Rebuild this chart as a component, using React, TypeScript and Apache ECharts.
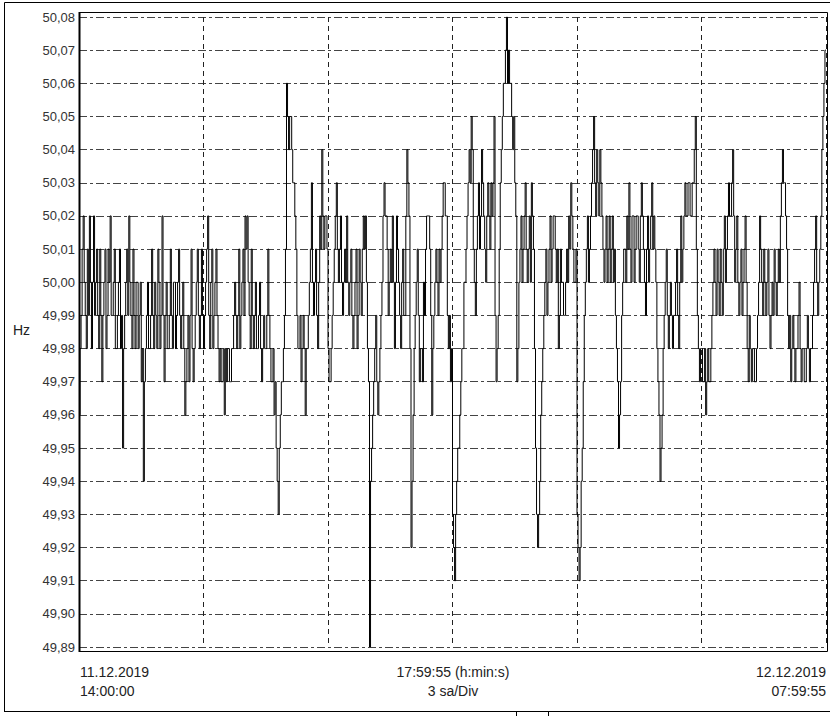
import React, { useEffect, useRef } from "react";
import * as echarts from "echarts";

// Frequency samples (Hz), one every 1.5 minutes from 11.12.2019 14:00:00
const STEP_MIN = 1.5;
const freqHz: number[] = [
  49.96,49.98, 49.99,50.01, 50.02,50.00, 49.99,49.98, 50.01,49.99, 50.02,50.00, 49.98,50.00, 50.02,49.99, 50.00,50.01, 49.99,49.98,
  50.01,49.99, 49.97,49.99, 50.00,50.01, 49.98,49.99, 50.01,50.00, 50.02,49.99, 49.99,50.00, 50.01,49.98, 49.98,49.99, 50.00,50.01,
  49.98,49.99, 49.95,49.98, 49.99,50.00, 50.01,49.99, 50.02,50.00, 49.99,49.98, 50.01,49.99, 49.98,50.00, 50.00,49.98, 49.99,50.00,
  49.97,49.98, 49.94,49.97, 49.98,49.99, 50.00,49.98, 49.98,49.99, 50.01,49.99, 49.98,50.00, 49.99,49.98, 50.01,50.00, 49.98,49.99,
  50.02,49.99, 49.97,49.99, 50.00,49.98, 49.98,49.99, 50.01,49.99, 49.98,50.00, 50.00,49.98, 49.99,50.00, 50.01,49.99, 49.98,49.99,
  50.00,49.98, 49.96,49.97, 49.98,49.99, 49.97,49.99, 50.01,49.98, 49.97,49.98, 49.99,50.00, 50.01,49.99, 49.98,49.99, 50.01,49.99,
  49.98,49.99, 50.00,50.01, 50.02,49.99, 49.98,50.00, 50.01,49.98, 49.99,50.00, 50.01,49.99, 49.98,49.97, 49.98,49.97, 49.97,49.98,
  49.96,49.98, 49.97,49.98, 49.98,49.97, 49.97,49.98, 49.98,49.99, 50.00,49.99, 49.98,49.99, 50.01,49.98, 49.99,50.00, 50.01,49.99,
  50.02,50.01, 50.02,50.00, 49.99,49.98, 50.01,49.99, 49.98,49.99, 50.00,49.98, 49.98,49.99, 50.00,49.98, 49.97,49.98, 49.99,49.98,
  49.98,49.99, 50.01,49.99, 49.98,49.97, 49.97,49.98, 49.96,49.97, 49.95,49.94, 49.93,49.95, 49.96,49.97, 49.97,49.98, 49.99,50.01,
  50.06,50.05, 50.04,50.05, 50.05,50.04, 50.03,50.03, 50.02,50.01, 49.99,49.98, 49.98,49.99, 49.97,49.98, 49.99,49.98, 49.96,49.98,
  49.98,49.99, 50.00,50.01, 50.03,50.00, 49.99,50.00, 50.01,49.99, 49.98,50.00, 50.02,50.01, 50.04,50.02, 50.01,50.02, 50.02,50.01,
  49.98,49.97, 49.97,49.98, 49.99,50.00, 50.01,50.02, 50.03,50.01, 50.00,50.01, 50.02,50.00, 49.99,50.00, 50.01,50.00, 50.02,50.00,
  49.99,50.00, 50.01,49.99, 49.98,49.99, 50.00,50.01, 49.98,49.99, 50.01,50.00, 49.99,50.01, 50.02,50.01, 50.02,50.00, 49.98,49.97,
  49.89,49.94, 49.95,49.96, 49.97,49.98, 49.99,49.97, 49.96,49.97, 49.98,49.99, 50.00,50.02, 50.03,50.02, 50.02,50.01, 49.99,50.00,
  50.01,50.00, 50.02,50.00, 49.98,50.00, 50.02,50.01, 50.00,49.99, 49.98,50.00, 50.01,49.99, 49.99,50.02, 50.04,50.03, 50.02,49.98,
  49.92,49.94, 49.96,49.98, 49.99,50.00, 50.01,49.99, 49.97,49.98, 49.98,49.97, 50.00,49.99, 50.01,50.02, 50.02,50.02, 50.01,49.99,
  49.96,49.98, 49.99,50.00, 50.01,50.00, 49.99,50.01, 50.00,50.01, 50.02,50.03, 50.03,50.02, 50.02,49.99, 49.98,49.99, 49.97,49.98,
  49.93,49.92, 49.91,49.93, 49.94,49.95, 49.95,49.96, 49.97,49.98, 49.98,50.00, 50.00,50.01, 50.02,50.03, 50.04,50.03, 50.05,50.04,
  50.01,50.00, 49.99,50.01, 50.02,50.03, 50.01,50.02, 50.04,50.03, 50.02,50.01, 50.00,50.02, 50.03,50.02, 50.01,50.03, 50.02,50.03,
  50.05,49.99, 49.97,49.98, 49.99,50.01, 50.03,50.04, 50.05,50.06, 50.06,50.07, 50.08,50.06, 50.07,50.06, 50.06,50.05, 50.04,50.05,
  50.03,50.02, 49.97,49.98, 50.00,50.01, 50.02,50.00, 50.01,50.02, 50.03,50.01, 50.00,50.01, 50.02,50.00, 50.03,50.02, 50.01,49.98,
  49.95,49.93, 49.92,49.93, 49.94,49.96, 49.97,49.98, 49.99,50.00, 50.01,49.99, 50.00,50.01, 50.02,50.00, 50.01,50.02, 50.02,50.01,
  50.00,50.01, 49.98,49.99, 50.01,50.00, 50.00,49.99, 49.99,50.00, 50.01,50.00, 50.02,50.01, 50.03,50.02, 50.01,50.00, 50.00,50.01,
  49.93,49.92, 49.91,49.92, 49.94,49.95, 49.97,49.99, 50.00,50.01, 50.02,50.00, 50.01,50.02, 50.03,50.04, 50.05,50.03, 50.02,50.04,
  50.03,50.02, 50.04,50.03, 50.02,50.01, 50.00,50.01, 50.02,50.00, 50.01,50.02, 50.00,50.01, 50.02,50.00, 50.01,49.99, 49.98,49.97,
  49.95,49.96, 49.97,49.99, 50.00,50.01, 50.01,50.00, 50.02,50.01, 50.03,50.01, 50.00,50.02, 50.02,50.00, 50.01,50.02, 50.02,50.01,
  50.00,50.02, 50.03,50.02, 50.01,50.00, 49.99,50.01, 50.02,50.00, 50.01,50.02, 50.03,50.01, 50.02,50.01, 50.00,49.98, 49.97,49.96,
  49.94,49.95, 49.96,49.98, 49.99,50.00, 50.01,49.99, 49.98,49.99, 50.00,49.99, 49.98,49.99, 49.99,50.00, 50.01,49.99, 49.98,50.00,
  50.02,50.00, 50.01,50.02, 50.03,50.02, 50.02,50.03, 50.03,50.02, 50.02,50.03, 50.03,50.04, 50.05,50.01, 49.99,49.98, 49.97,49.98,
  49.98,49.97, 49.97,49.98, 49.96,49.97, 49.98,49.97, 49.97,49.98, 49.99,50.00, 50.01,50.00, 49.99,50.01, 50.00,49.99, 50.01,50.00,
  49.99,50.01, 50.02,50.00, 50.01,50.02, 50.03,50.02, 50.02,50.03, 50.04,50.02, 50.00,50.01, 50.02,50.00, 49.99,50.00, 50.01,49.99,
  50.00,50.01, 50.02,50.00, 49.98,49.97, 49.99,49.98, 49.97,49.98, 49.98,49.97, 49.97,49.98, 49.99,50.00, 50.02,50.01, 50.00,49.99,
  50.01,50.00, 49.99,50.00, 50.01,49.99, 49.98,49.99, 50.00,49.99, 50.01,50.00, 49.99,50.00, 50.01,50.00, 50.02,50.03, 50.04,50.03,
  50.03,50.02, 50.01,49.99, 49.98,49.99, 49.97,49.98, 49.99,49.98, 49.97,49.98, 49.98,49.99, 50.00,49.98, 49.97,49.98, 49.98,49.97,
  49.97,49.98, 49.99,49.98, 49.97,49.98, 49.98,49.99, 50.00,50.01, 50.02,50.00, 49.99,50.00, 50.01,50.02, 50.04,50.05, 50.06,50.07,
  50.07,
];

const Y_MIN = 49.89;
const Y_MAX = 50.08;
const Y_STEP = 0.01;
const X_TOTAL_MIN = 1080; // 18 h
const X_DIV_MIN = 180; // 3 h per division

const yUnit = "Hz";
const startLabel = ["11.12.2019", "14:00:00"];
const midLabel = ["17:59:55 (h:min:s)", "3 sa/Div"];
const endLabel = ["12.12.2019", "07:59:55"];

const FONT = "'Liberation Sans', Arial, sans-serif";

export default function App() {
  const ref = useRef<HTMLDivElement>(null);

  useEffect(() => {
    if (!ref.current) return;
    const chart = echarts.init(ref.current, null, { renderer: "svg" });
    const data = freqHz.map((v, i) => [i * STEP_MIN, v]);
    const L = 79, T = 17, R = 826, B = 647;

    chart.setOption({
      animation: false,
      backgroundColor: "#ffffff",
      grid: { left: L, top: T, width: R - L, height: B - T, containLabel: false },
      xAxis: {
        type: "value",
        min: 0,
        max: X_TOTAL_MIN,
        interval: X_DIV_MIN,
        axisLine: { show: false },
        axisTick: { show: false },
        axisLabel: { show: false },
        splitLine: {
          show: true,
          lineStyle: { color: "#222", width: 1, type: [5, 4] },
        },
      },
      yAxis: {
        type: "value",
        min: Y_MIN,
        max: Y_MAX,
        interval: Y_STEP,
        axisLine: { show: false },
        axisTick: { show: false },
        axisLabel: {
          show: true,
          margin: 4,
          color: "#333",
          fontFamily: FONT,
          fontSize: 13,
          formatter: (v: number) => v.toFixed(2).replace(".", ","),
        },
        splitLine: {
          show: true,
          lineStyle: { color: "#444", width: 1, type: [8, 3, 3, 3] },
        },
      },
      series: [
        {
          type: "line",
          step: "end",
          data,
          showSymbol: false,
          symbol: "none",
          lineStyle: { color: "#000", width: 1 },
          z: 3,
        },
      ],
      graphic: [
        // outer frame
        { type: "line", shape: { x1: 4.5, y1: 2.5, x2: 830, y2: 2.5 }, style: { stroke: "#000", lineWidth: 1 } },
        { type: "line", shape: { x1: 4.5, y1: 2.5, x2: 4.5, y2: 712 }, style: { stroke: "#000", lineWidth: 1 } },
        { type: "line", shape: { x1: 4.5, y1: 711.5, x2: 830, y2: 711.5 }, style: { stroke: "#000", lineWidth: 1 } },
        { type: "line", shape: { x1: 516.5, y1: 711.5, x2: 516.5, y2: 716 }, style: { stroke: "#000", lineWidth: 1 } },
        { type: "line", shape: { x1: 548.5, y1: 711.5, x2: 548.5, y2: 716 }, style: { stroke: "#000", lineWidth: 1 } },
        // plot frame
        {
          type: "rect",
          shape: { x: 79.5, y: 12.5, width: 748, height: 639 },
          style: { fill: "none", stroke: "#000", lineWidth: 1 },
          z: 10,
        },
        { type: "line", shape: { x1: 79.5, y1: 12, x2: 79.5, y2: 652 }, style: { stroke: "#000", lineWidth: 2 }, z: 10 },
        // unit
        { type: "text", left: 13, top: 323, style: { text: yUnit, font: `14px ${FONT}`, fill: "#222" } },
        // bottom labels
        { type: "text", x: 80, y: 672, style: { text: startLabel[0], font: `14px ${FONT}`, fill: "#222", textAlign: "left", textVerticalAlign: "middle" } },
        { type: "text", x: 80, y: 691, style: { text: startLabel[1], font: `14px ${FONT}`, fill: "#222", textAlign: "left", textVerticalAlign: "middle" } },
        { type: "text", x: 453, y: 672, style: { text: midLabel[0], font: `14px ${FONT}`, fill: "#222", textAlign: "center", textVerticalAlign: "middle" } },
        { type: "text", x: 453, y: 691, style: { text: midLabel[1], font: `14px ${FONT}`, fill: "#222", textAlign: "center", textVerticalAlign: "middle" } },
        { type: "text", x: 826, y: 672, style: { text: endLabel[0], font: `14px ${FONT}`, fill: "#222", textAlign: "right", textVerticalAlign: "middle" } },
        { type: "text", x: 826, y: 691, style: { text: endLabel[1], font: `14px ${FONT}`, fill: "#222", textAlign: "right", textVerticalAlign: "middle" } },
      ],
    });

    return () => chart.dispose();
  }, []);

  return (
    <div
      ref={ref}
      style={{ position: "fixed", left: 0, top: 0, width: 830, height: 716, background: "#fff" }}
    />
  );
}
